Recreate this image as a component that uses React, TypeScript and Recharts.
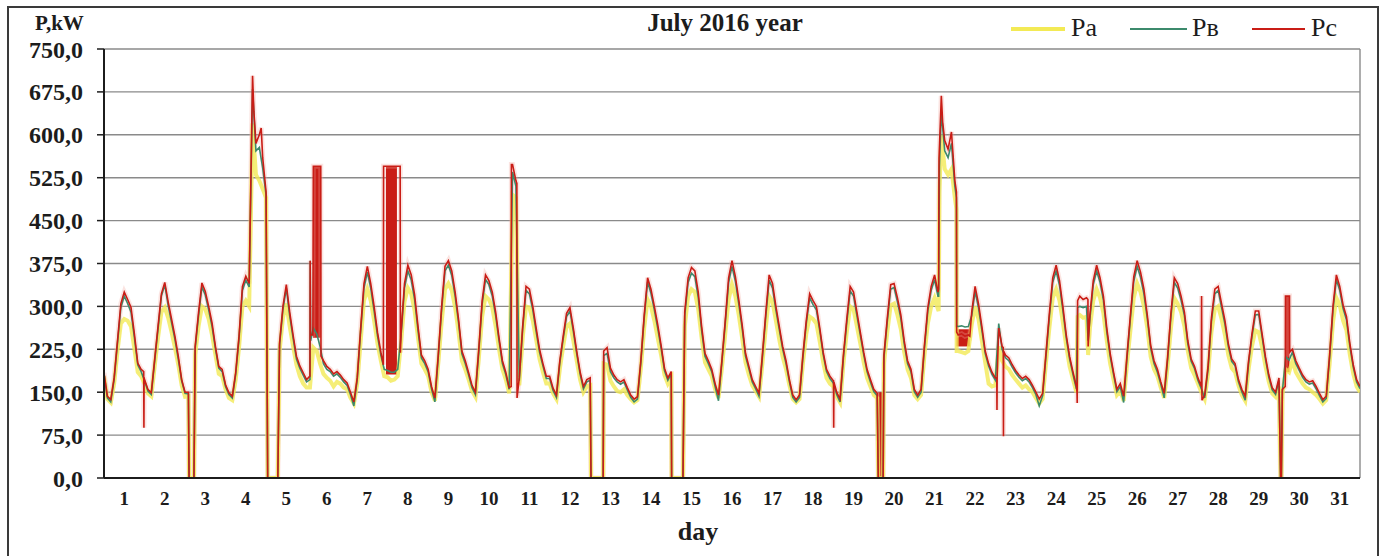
import { LineChart, Line, XAxis, YAxis, CartesianGrid, ReferenceArea } from "recharts";

// Phase loads, kW, sampled every two hours (12 samples per day), one row per day of July
const pcDays: number[][] = [
  [184, 143, 137, 175, 240, 305, 325, 312, 298, 252, 201, 190],
  [172, 155, 149, 207, 265, 322, 342, 308, 278, 248, 213, 172],
  [150, 150, 0, 230, 289, 341, 326, 300, 271, 230, 195, 190],
  [163, 149, 143, 184, 248, 335, 353, 340, 703, 585, 600, 560],
  [500, 0, 0, 0, 236, 300, 338, 290, 250, 213, 196, 184],
  [172, 178, 545, 545, 545, 205, 195, 190, 182, 186, 180, 172],
  [166, 150, 133, 175, 260, 340, 370, 340, 300, 255, 220, 545],
  [545, 545, 545, 545, 255, 340, 372, 355, 320, 265, 215, 205],
  [190, 160, 140, 215, 300, 370, 380, 362, 325, 278, 222, 205],
  [184, 162, 150, 225, 310, 355, 345, 325, 290, 245, 205, 185],
  [158, 548, 520, 175, 265, 335, 330, 300, 262, 225, 200, 178],
  [178, 157, 145, 205, 248, 288, 298, 262, 222, 186, 160, 172],
  [175, 0, 0, 0, 222, 228, 192, 180, 172, 168, 172, 158],
  [145, 138, 142, 205, 285, 350, 330, 300, 268, 232, 192, 175],
  [186, 0, 0, 0, 290, 350, 368, 362, 325, 265, 218, 205],
  [190, 165, 145, 205, 275, 350, 380, 352, 312, 268, 218, 195],
  [172, 160, 148, 215, 288, 355, 340, 300, 265, 230, 205, 172],
  [145, 137, 145, 215, 275, 322, 310, 300, 262, 220, 190, 178],
  [170, 150, 138, 215, 278, 335, 325, 290, 255, 220, 190, 172],
  [155, 148, 0, 215, 280, 338, 340, 315, 285, 240, 205, 190],
  [155, 145, 155, 232, 298, 335, 355, 325, 668, 590, 575, 605],
  [520, 250, 252, 248, 250, 290, 335, 305, 265, 222, 200, 185],
  [175, 262, 230, 215, 210, 198, 188, 180, 174, 178, 172, 162],
  [150, 138, 148, 218, 288, 350, 372, 345, 300, 250, 212, 185],
  [160, 318, 312, 315, 285, 345, 372, 350, 318, 262, 218, 185],
  [155, 165, 143, 215, 285, 352, 380, 360, 330, 285, 232, 205],
  [190, 168, 148, 210, 288, 350, 340, 318, 290, 240, 208, 195],
  [175, 160, 145, 195, 280, 330, 335, 305, 275, 235, 208, 200],
  [172, 155, 143, 205, 252, 292, 292, 252, 212, 180, 158, 150],
  [175, 155, 318, 318, 225, 205, 192, 180, 172, 168, 170, 160],
  [148, 137, 143, 215, 300, 355, 335, 302, 282, 235, 198, 172],
];
const pcEnd = 160;

const pbDays: number[][] = [
  [182, 140, 133, 172, 236, 298, 318, 305, 290, 246, 198, 186],
  [170, 152, 146, 204, 260, 318, 338, 302, 272, 243, 208, 170],
  [148, 147, 0, 226, 284, 334, 320, 294, 265, 226, 192, 186],
  [160, 146, 140, 181, 244, 328, 346, 334, 680, 572, 578, 542],
  [495, 0, 0, 0, 232, 295, 332, 284, 245, 208, 192, 180],
  [168, 172, 262, 252, 230, 200, 190, 186, 178, 182, 176, 168],
  [162, 146, 126, 172, 255, 332, 360, 332, 292, 249, 215, 190],
  [188, 185, 185, 190, 250, 332, 362, 346, 312, 258, 210, 200],
  [186, 156, 133, 211, 294, 362, 372, 354, 318, 272, 217, 200],
  [180, 158, 146, 220, 304, 347, 338, 318, 284, 240, 200, 181],
  [155, 535, 510, 170, 260, 328, 322, 294, 256, 220, 196, 174],
  [174, 153, 141, 201, 243, 282, 292, 257, 218, 182, 156, 168],
  [171, 0, 0, 0, 214, 218, 186, 175, 168, 164, 168, 154],
  [141, 133, 138, 201, 280, 343, 323, 294, 262, 227, 188, 171],
  [182, 0, 0, 0, 284, 342, 358, 352, 316, 258, 213, 200],
  [186, 160, 135, 201, 270, 342, 370, 344, 305, 262, 213, 191],
  [168, 156, 143, 210, 282, 346, 332, 294, 260, 226, 200, 168],
  [141, 133, 141, 210, 270, 315, 303, 294, 257, 216, 186, 174],
  [166, 146, 133, 210, 272, 327, 318, 284, 250, 216, 186, 168],
  [151, 144, 0, 210, 274, 330, 333, 308, 279, 235, 200, 186],
  [151, 141, 150, 227, 292, 328, 347, 318, 640, 572, 560, 585],
  [510, 265, 266, 264, 265, 284, 326, 298, 259, 218, 196, 181],
  [171, 270, 225, 210, 205, 194, 184, 176, 170, 174, 168, 158],
  [146, 126, 144, 213, 282, 342, 362, 337, 293, 245, 208, 181],
  [156, 300, 298, 300, 278, 338, 362, 342, 311, 256, 213, 181],
  [151, 160, 132, 210, 279, 344, 370, 351, 322, 279, 227, 200],
  [185, 164, 140, 205, 282, 342, 332, 311, 284, 235, 204, 191],
  [171, 156, 140, 190, 274, 322, 328, 298, 269, 230, 204, 196],
  [168, 151, 136, 200, 247, 285, 286, 247, 208, 176, 154, 146],
  [171, 151, 212, 206, 220, 200, 188, 176, 168, 164, 166, 156],
  [144, 133, 139, 210, 294, 347, 328, 296, 276, 230, 194, 168],
];
const pbEnd = 156;

const paDays: number[][] = [
  [178, 138, 132, 165, 222, 270, 278, 275, 265, 225, 185, 178],
  [165, 148, 143, 195, 245, 290, 298, 280, 255, 228, 198, 162],
  [142, 143, 0, 215, 265, 300, 295, 278, 250, 215, 182, 178],
  [155, 140, 136, 172, 228, 300, 310, 300, 620, 530, 520, 505],
  [490, 0, 0, 0, 222, 280, 305, 265, 230, 198, 178, 165],
  [158, 158, 228, 222, 200, 182, 175, 170, 160, 168, 165, 158],
  [155, 140, 130, 165, 238, 310, 330, 310, 275, 235, 205, 178],
  [176, 170, 172, 178, 238, 308, 332, 322, 292, 245, 200, 190],
  [178, 150, 135, 200, 272, 330, 340, 328, 298, 255, 205, 190],
  [172, 152, 142, 208, 282, 318, 312, 298, 265, 225, 190, 172],
  [148, 495, 490, 162, 245, 300, 298, 275, 242, 208, 185, 165],
  [165, 148, 138, 190, 230, 265, 270, 240, 205, 172, 150, 160],
  [162, 0, 0, 0, 200, 198, 170, 160, 152, 150, 155, 145],
  [138, 132, 136, 192, 262, 312, 300, 275, 245, 215, 180, 165],
  [175, 0, 0, 0, 265, 318, 330, 325, 295, 245, 202, 190],
  [178, 155, 140, 192, 252, 312, 338, 318, 285, 245, 202, 180],
  [162, 152, 142, 200, 262, 318, 308, 275, 242, 212, 190, 162],
  [138, 132, 138, 200, 252, 282, 278, 270, 238, 202, 175, 165],
  [160, 142, 132, 200, 255, 300, 295, 265, 235, 202, 175, 160],
  [145, 140, 0, 200, 255, 302, 305, 285, 260, 220, 190, 175],
  [145, 138, 145, 215, 270, 300, 315, 295, 600, 540, 530, 540],
  [490, 222, 220, 218, 222, 268, 300, 278, 240, 202, 165, 160],
  [162, 230, 205, 195, 190, 180, 172, 165, 158, 162, 155, 150],
  [140, 130, 138, 202, 262, 315, 330, 310, 272, 230, 195, 172],
  [150, 285, 280, 282, 262, 310, 330, 315, 288, 240, 200, 172],
  [145, 152, 135, 200, 258, 315, 340, 325, 300, 262, 212, 190],
  [178, 158, 140, 195, 262, 315, 305, 290, 265, 222, 192, 180],
  [165, 150, 138, 182, 255, 295, 300, 278, 250, 215, 192, 185],
  [162, 145, 135, 190, 230, 258, 255, 228, 195, 168, 148, 142],
  [160, 145, 190, 185, 205, 185, 175, 165, 158, 155, 150, 145],
  [138, 130, 136, 200, 272, 315, 302, 275, 258, 215, 182, 160],
];
const paEnd = 150;

// supply interruptions, all phases at zero: [from, to] in days since 1 July
const outages: [number, number][] = [
  [2.1, 2.22],
  [4.04, 4.29],
  [12.02, 12.32],
  [14.01, 14.29],
  [19.11, 19.23],
  [29.04, 29.06],
];

// short spikes and steps between the two-hour samples: [day, kW]
const pcEvents: [number, number][] = [
  [0.98, 186], [0.985, 88], [0.99, 176],
  [3.7, 640], [3.88, 612],
  [5.09, 380], [5.1, 250], [5.155, 250], [5.35, 545], [5.355, 213],
  [6.895, 198], [6.9, 545], [7.31, 545], [7.315, 219],
  [10.05, 160], [10.055, 548], [10.19, 515], [10.195, 140],
  [18.005, 170], [18.01, 88], [18.015, 168],
  [20.6, 330], [20.61, 560], [20.7, 622],
  [21.04, 500], [21.045, 255], [21.37, 248],
  [22.035, 175], [22.04, 119], [22.045, 180], [22.195, 228], [22.2, 73], [22.205, 222],
  [24.015, 150], [24.02, 131], [24.03, 310], [24.285, 312], [24.29, 230],
  [27.09, 318], [27.1, 136],
  [29.155, 160], [29.16, 318], [29.26, 318], [29.265, 220],
];
const pbEvents: [number, number][] = [
  [5.09, 380], [5.1, 240],
  [20.6, 318], [20.62, 545],
  [21.04, 490], [21.045, 265],
  [24.03, 298], [24.29, 240],
];
const paEvents: [number, number][] = [
  [20.6, 292], [20.62, 500],
  [21.04, 470], [21.045, 222],
  [24.03, 282], [24.29, 215],
];

// stretches where phase C chatters between two levels, seen as a solid band: [from, to, low, high]
const pcBands: [number, number, number, number][] = [
  [5.16, 5.35, 245, 545],
  [6.96, 7.23, 181, 545],
  [19.11, 19.23, 0, 150],
  [21.04, 21.37, 230, 260],
  [29.16, 29.26, 185, 318],
];

const dayEdges = [
  0, 1, 2, 3, 4, 5, 6, 7, 8, 9, 10, 11, 12, 13, 14, 15, 16, 17, 18, 19, 20, 21, 22, 23, 24, 25,
  26, 27, 28, 29, 30, 31,
];
const dayLabels = [
  "1", "2", "3", "4", "5", "6", "7", "8", "9", "10", "11", "12", "13", "14", "15", "16", "17",
  "18", "19", "20", "21", "22", "23", "24", "25", "26", "27", "28", "29", "30", "31",
];
const valueTicks = [0, 75, 150, 225, 300, 375, 450, 525, 600, 675, 750];

const seriesNames = ["Pa", "Pв", "Pc"];
const colors = { pa: "#f3ea55", pb: "#3c8a6c", pc: "#c91d16", pcHalo: "#f2a49a" };

type Pt = { x: number; v: number };

function buildSeries(days: number[][], end: number, events: [number, number][]): Pt[] {
  const pts: Pt[] = [];
  days.forEach((row, d) => row.forEach((v, k) => pts.push({ x: d + k / row.length, v })));
  pts.push({ x: days.length, v: end });
  outages.forEach(([a, b]) => {
    pts.push({ x: a, v: 0 });
    pts.push({ x: b, v: 0 });
  });
  events.forEach(([x, v]) => pts.push({ x, v }));
  return pts.sort((p, q) => p.x - q.x);
}

const paData = buildSeries(paDays, paEnd, paEvents);
const pbData = buildSeries(pbDays, pbEnd, pbEvents);
const pcData = buildSeries(pcDays, pcEnd, pcEvents);

const serif = "'Liberation Serif', 'DejaVu Serif', serif";
const ink = "#1c1c1c";

const fmtKw = (v: number) => v.toFixed(1).replace(".", ",");
const dayMids = dayLabels.map((_, i) => i + 0.5);

const legendItems = [
  { name: seriesNames[0], color: colors.pa, width: 3.5, x1: 1011, x2: 1065, tx: 1071 },
  { name: seriesNames[1], color: colors.pb, width: 1.6, x1: 1130, x2: 1187, tx: 1192 },
  { name: seriesNames[2], color: colors.pc, width: 2, x1: 1252, x2: 1305, tx: 1311 },
];

export default function App() {
  return (
    <div style={{ position: "absolute", left: 0, top: 0, width: 1384, height: 556, background: "#fff", overflow: "hidden" }}>
      <div
        style={{
          position: "absolute",
          left: 7,
          top: 6,
          width: 1368,
          height: 600,
          border: "2px solid #3a3a3a",
        }}
      />
      <div style={{ position: "absolute", left: 35, top: 11, fontFamily: serif, fontWeight: 700, fontSize: 21, color: ink }}>
        P,kW
      </div>
      <div
        style={{
          position: "absolute",
          left: 525,
          width: 400,
          top: 9,
          textAlign: "center",
          fontFamily: serif,
          fontWeight: 700,
          fontSize: 25,
          color: ink,
        }}
      >
        July 2016 year
      </div>
      {legendItems.map((it) => (
        <div key={it.name}>
          <div
            style={{
              position: "absolute",
              left: it.x1,
              top: 29 - it.width / 2,
              width: it.x2 - it.x1,
              height: it.width,
              background: it.color,
            }}
          />
          <div style={{ position: "absolute", left: it.tx, top: 13, fontFamily: serif, fontSize: 26, color: ink }}>
            {it.name}
          </div>
        </div>
      ))}
      <div style={{ position: "absolute", left: 0, top: 0 }}>
        <LineChart width={1384} height={556} data={pcData} margin={{ top: 49, right: 24, bottom: 8, left: 8 }}>
          <CartesianGrid stroke="#8a8a8a" strokeWidth={1.4} />
          <XAxis
            type="number"
            dataKey="x"
            domain={[0, 31]}
            ticks={dayEdges}
            tick={false}
            tickSize={9}
            height={10}
            allowDataOverflow
            axisLine={{ stroke: ink, strokeWidth: 2 }}
            tickLine={{ stroke: ink, strokeWidth: 2 }}
          />
          <XAxis
            xAxisId="days"
            type="number"
            dataKey="x"
            domain={[0, 31]}
            ticks={dayMids}
            interval={0}
            tickFormatter={(v: number) => dayLabels[Math.floor(v)]}
            height={60}
            axisLine={false}
            tickLine={false}
            tickSize={0}
            tickMargin={4}
            tick={{ fontFamily: serif, fontWeight: 700, fontSize: 19, fill: ink }}
            label={{
              value: "day",
              position: "insideBottom",
              offset: 8,
              dx: -34,
              style: { fontFamily: serif, fontWeight: 700, fontSize: 26, fill: ink },
            }}
          />
          <YAxis
            type="number"
            domain={[0, 750]}
            ticks={valueTicks}
            interval={0}
            width={96}
            tickFormatter={fmtKw}
            tickSize={7}
            tickMargin={14}
            allowDataOverflow
            axisLine={{ stroke: ink, strokeWidth: 2 }}
            tickLine={{ stroke: ink, strokeWidth: 1.5 }}
            tick={{ fontFamily: serif, fontWeight: 700, fontSize: 24, fill: ink }}
          />
          {pcBands.map(([a, b, lo, hi], i) => (
            <ReferenceArea key={i} x1={a} x2={b} y1={lo} y2={hi} fill={colors.pc} fillOpacity={1} stroke="none" />
          ))}
          <Line
            data={pcData}
            dataKey="v"
            type="linear"
            stroke={colors.pcHalo}
            strokeWidth={5}
            strokeOpacity={0.3}
            dot={false}
            isAnimationActive={false}
          />
          <Line
            data={paData}
            dataKey="v"
            type="linear"
            stroke={colors.pa}
            strokeWidth={4}
            strokeOpacity={0.8}
            dot={false}
            isAnimationActive={false}
          />
          <Line
            data={pbData}
            dataKey="v"
            type="linear"
            stroke={colors.pb}
            strokeWidth={1.6}
            dot={false}
            isAnimationActive={false}
          />
          <Line
            data={pcData}
            dataKey="v"
            type="linear"
            stroke={colors.pc}
            strokeWidth={1.6}
            dot={false}
            isAnimationActive={false}
          />
        </LineChart>
      </div>
    </div>
  );
}
